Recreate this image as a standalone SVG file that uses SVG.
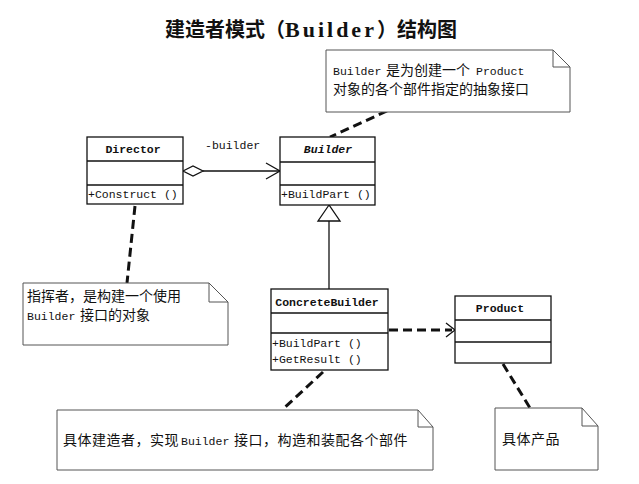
<svg xmlns="http://www.w3.org/2000/svg" width="639" height="484" viewBox="0 0 639 484">
<style>
.box{fill:#fff;stroke:#111;stroke-width:1.3}
.ln{stroke:#111;stroke-width:1.3;fill:none}
.dash{stroke:#111;stroke-width:3;stroke-dasharray:9 5;fill:none}
.note{fill:#fff;stroke:#555;stroke-width:1}
.m{font-family:"Liberation Mono",monospace;font-size:11.5px;fill:#111}
.b{font-weight:bold}
.cj{font-family:"Noto Sans CJK SC","Noto Sans CJK JP",sans-serif;font-size:14px;fill:#111}
</style>
<rect width="639" height="484" fill="#fff"/>
<g id="title">
<text x="165" y="37" style="font-family:'Noto Sans CJK SC',sans-serif;font-size:20px;font-weight:bold;fill:#111">建造者模式（<tspan style="font-family:'Liberation Serif',serif;font-size:22px" letter-spacing="3">Builder</tspan>）结构图</text>
</g>
<g id="connectors">
<line class="dash" x1="387" y1="111" x2="330" y2="137"/>
<line class="ln" x1="203" y1="171" x2="280" y2="171"/>
<polygon points="183,171 193,166 203,171 193,176" fill="#fff" stroke="#111" stroke-width="1.3"/>
<polyline class="ln" points="266,163 280,171 266,179"/>
<line class="ln" x1="329" y1="221" x2="329" y2="289"/>
<polygon points="329,205 318,221 340,221" fill="#fff" stroke="#111" stroke-width="1.3"/>
<line class="dash" x1="135" y1="206" x2="127" y2="283"/>
<line class="dash" x1="389" y1="330" x2="452" y2="330"/>
<polyline class="ln" points="446,323 455,330 446,337"/>
<line class="dash" x1="323" y1="372" x2="282" y2="410"/>
<line class="dash" x1="503" y1="364" x2="530" y2="408"/>
<text class="m" x="205" y="149">-builder</text>
</g>
<g id="note-builder">
<path class="note" d="M326,50 H553 L570,67 V112 H326 Z M553,50 V67 H570"/>
<text class="m" x="333" y="75">Builder</text>
<text class="cj" x="386" y="75">是为创建一个</text>
<text class="m" x="476" y="75">Product</text>
<text class="cj" x="333" y="94">对象的各个部件指定的抽象接口</text>
</g>
<g id="director">
<rect class="box" x="87" y="137" width="96" height="67"/>
<line class="ln" x1="87" y1="161" x2="183" y2="161"/>
<line class="ln" x1="87" y1="185" x2="183" y2="185"/>
<text class="m b" x="133" y="153" text-anchor="middle">Director</text>
<text class="m" x="88" y="198">+Construct ()</text>
</g>
<g id="builder">
<rect class="box" x="280" y="137" width="95" height="68"/>
<line class="ln" x1="280" y1="162" x2="375" y2="162"/>
<line class="ln" x1="280" y1="185" x2="375" y2="185"/>
<text class="m b" x="328" y="153" text-anchor="middle" font-style="italic">Builder</text>
<text class="m" x="281" y="198">+BuildPart ()</text>
</g>
<g id="note-director">
<path class="note" d="M23,283 H209 L228,302 V345 H23 Z M209,283 V302 H228"/>
<text class="cj" x="27" y="301">指挥者，是构建一个使用</text>
<text class="m" x="27" y="320">Builder</text>
<text class="cj" x="80" y="320">接口的对象</text>
</g>
<g id="concretebuilder">
<rect class="box" x="271" y="289" width="117" height="81"/>
<line class="ln" x1="271" y1="313" x2="388" y2="313"/>
<line class="ln" x1="271" y1="333" x2="388" y2="333"/>
<text class="m b" x="327" y="306" text-anchor="middle">ConcreteBuilder</text>
<text class="m" x="272" y="347">+BuildPart ()</text>
<text class="m" x="272" y="363">+GetResult ()</text>
</g>
<g id="product">
<rect class="box" x="455" y="296" width="96" height="67"/>
<line class="ln" x1="455" y1="320" x2="551" y2="320"/>
<line class="ln" x1="455" y1="342" x2="551" y2="342"/>
<text class="m b" x="500" y="312" text-anchor="middle">Product</text>
</g>
<g id="note-concretebuilder">
<path class="note" d="M57,410 H418 L433,427 V470 H57 Z M418,410 V427 H433"/>
<text class="cj" x="63" y="445" letter-spacing="0.5">具体建造者，实现</text>
<text class="m" x="181" y="445">Builder</text>
<text class="cj" x="234" y="445" letter-spacing="0.5">接口，构造和装配各个部件</text>
</g>
<g id="note-product">
<path class="note" d="M495,408 H582 L598,426 V470 H495 Z M582,408 V426 H598"/>
<text class="cj" x="502" y="444" letter-spacing="0.5">具体产品</text>
</g>
</svg>
